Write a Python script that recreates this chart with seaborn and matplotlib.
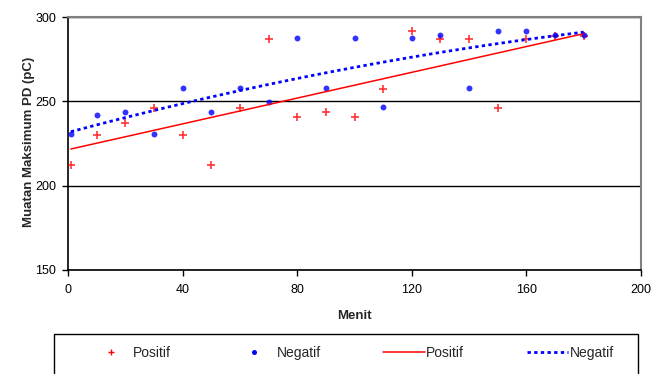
import numpy as np
import pandas as pd
import seaborn as sns
import matplotlib
matplotlib.use("Agg")
import matplotlib.pyplot as plt
from matplotlib.lines import Line2D
from matplotlib.patches import Rectangle

menit = [1, 10, 20, 30, 40, 50, 60, 70, 80, 90, 100, 110, 120, 130, 140, 150, 160, 170, 180]
positif = [212, 230, 237, 246, 230, 212, 246, 287, 241, 243.5, 241, 257.5, 291.7, 287, 287, 246, 287, 289, 288.7]
negatif = [230.5, 241.7, 243.9, 230.5, 257.7, 243.9, 258, 249.4, 287.4, 258, 287.4, 246.5, 287.4, 289.3, 258, 291.9, 291.9, 289.3, 289.3]
x_ticks = [0, 40, 80, 120, 160, 200]
y_ticks = [150, 200, 250, 300]
legend_labels = ["Positif", "Negatif", "Positif", "Negatif"]

df = pd.DataFrame({"Menit": menit, "Positif": positif, "Negatif": negatif})

sns.set_style("white")
plt.rcParams["font.family"] = ["Liberation Sans", "DejaVu Sans"]

fig = plt.figure(figsize=(6.53, 3.74), dpi=100)
ax = fig.add_axes([68 / 653, 1 - 270 / 374, 573 / 653, 253 / 374])

RED = "#FF0000"
BLUE = "#0000FF"

sns.regplot(data=df, x="Menit", y="Positif", ax=ax, ci=None, order=1,
            marker="+", color=RED,
            scatter_kws=dict(s=40, linewidths=1.2, zorder=3),
            line_kws=dict(color=RED, lw=1.1, zorder=4))
sns.regplot(data=df, x="Menit", y="Negatif", ax=ax, ci=None, order=2,
            marker="o", color=BLUE,
            scatter_kws=dict(s=18, linewidths=0, zorder=3),
            line_kws=dict(color=BLUE, lw=2.0, linestyle=(0, (1.2, 1.2)), zorder=5))

ax.set_xlim(0, 200)
ax.set_ylim(150, 300)
ax.set_xticks(x_ticks)
ax.set_yticks(y_ticks)
ax.yaxis.grid(True, color="black", lw=1)
ax.xaxis.grid(False)
ax.set_axisbelow(True)

for s in ["left", "bottom"]:
    ax.spines[s].set_color("black")
    ax.spines[s].set_linewidth(1.2)
for s in ["top", "right"]:
    ax.spines[s].set_color("#808080")
    ax.spines[s].set_linewidth(1.5)

ax.tick_params(axis="both", direction="out", length=4, width=1, color="black",
               labelsize=9, labelcolor="black")
ax.tick_params(axis="x", pad=6, bottom=True)
ax.tick_params(axis="y", pad=4.5, left=True)

ax.set_xlabel("Menit", fontsize=9.5, fontweight="bold", va="center")
ax.xaxis.set_label_coords(0.5, (270 - 316) / 253)
ax.set_ylabel("Muatan Maksimum PD (pC)", fontsize=9.5, fontweight="bold")
ax.yaxis.set_label_coords((35 - 68) / 573, 0.506)

handles = [
    Line2D([], [], color=RED, marker="+", linestyle="None", markersize=5, markeredgewidth=1.0),
    Line2D([], [], color=BLUE, marker="o", linestyle="None", markersize=3.6, markeredgewidth=0),
    Line2D([], [], color=RED, lw=1.1),
    Line2D([], [], color=BLUE, lw=2.0, linestyle=(0, (1.2, 1.2))),
]
fig.legend(handles, legend_labels, ncol=4, loc="center",
           bbox_to_anchor=(352 / 653, 1 - 353 / 374), frameon=False,
           fontsize=10, handlelength=3.0, handletextpad=0.1,
           columnspacing=4.5, numpoints=1)
fig.patches.append(Rectangle((54 / 653, -0.05), (638 - 54) / 653, (1 - 334 / 374) + 0.05,
                             transform=fig.transFigure, fill=False,
                             edgecolor="black", lw=1.0))

fig.savefig("out.png", dpi=100)
